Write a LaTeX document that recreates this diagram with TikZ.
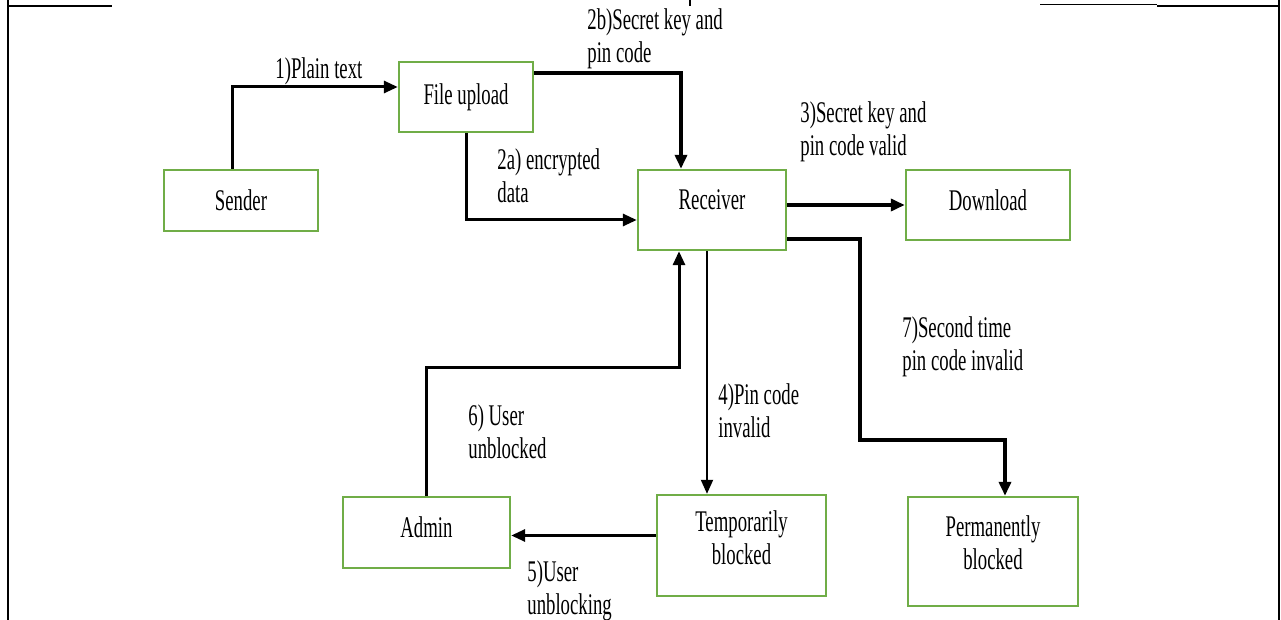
\documentclass[tikz,border=0pt]{standalone}
\usepackage{fontspec}
\setmainfont{Liberation Serif}[FakeStretch=0.625]
\usepackage{tikz}
\usetikzlibrary{positioning,calc,arrows.meta}

\definecolor{boxgreen}{RGB}{112,173,71}

\tikzset{
    stagebox/.style={draw=boxgreen, line width=1.2pt, fill=white, align=center,
        font=\fontsize{15}{16.5}\selectfont, inner sep=2pt},
    flow/.style={-{Triangle[length=7pt,width=6pt]}, line width=1.5pt, line join=miter},
    steplabel/.style={anchor=north west, align=left, inner sep=0pt,
        font=\fontsize{15}{16.5}\selectfont},
    framing/.style={line width=1pt}
}

\begin{document}
\begin{tikzpicture}[x=0.5pt,y=-0.5pt]

\useasboundingbox (0,0) rectangle (1281,620);

% outer frame
\draw[framing] (8,0) -- (8,620);
\draw[framing] (1279,0) -- (1279,620);
\draw[framing] (8,6) -- (112,6);
\draw[framing] (1157,6) -- (1279,6);
\draw[line width=0.5pt] (1040,5) -- (1157,5);
\draw[framing] (690,0) -- (690,6);

% boxes
\node[stagebox, minimum width=77pt, minimum height=30.5pt] (sender) at (241,200.5) {Sender};
\node[stagebox, minimum width=67pt, minimum height=35pt] (fileup) at (466,97) {File upload};
\node[stagebox, minimum width=74pt, minimum height=40pt, text depth=10pt] (recv) at (712,210) {Receiver};
\node[stagebox, minimum width=82pt, minimum height=35pt, text depth=5pt] (dl) at (988,205) {Download};
\node[stagebox, minimum width=83.5pt, minimum height=35.5pt, text depth=5pt] (admin) at (426.5,532.5) {Admin};
\node[stagebox, minimum width=84.5pt, minimum height=50.5pt, text depth=8pt] (temp) at (741.5,545.5) {Temporarily\\blocked};
\node[stagebox, minimum width=85pt, minimum height=54.5pt, text depth=9pt] (perm) at (993,551.5) {Permanently\\blocked};

% bends
\coordinate (k6) at (679,368);
\coordinate (k7) at (860,440);

% connectors
\draw[flow] ([xshift=-4.5pt]sender.north) |- ([yshift=5pt]fileup.west);
\draw[flow, line width=2.2pt] ([yshift=12pt]fileup.east) -| ([xshift=-15.5pt]recv.north);
\draw[flow] (fileup.south) |- ([yshift=-5pt]recv.west);
\draw[flow, line width=2pt] (recv.east |- dl.west) -- (dl.west);
\draw[flow, line width=2.2pt] ([yshift=-14.5pt]recv.east) -| (k7) -| ([xshift=6pt]perm.north);
\draw[flow, line width=1pt] ([xshift=-2.5pt]recv.south) -- ([xshift=-2.5pt]recv.south |- temp.north);
\draw[flow] ([yshift=5pt]temp.west) -- ([yshift=5pt]temp.west -| admin.east);
\draw[flow] (admin.north) |- (k6) -- (k6 |- recv.south);

% step labels
\node[steplabel] (l1) at (275,57) {1)Plain text};
\node[steplabel] (l2b) at (587,8) {2b)Secret key and\\pin code};
\node[steplabel] (l2a) at (497,148) {2a) encrypted\\data};
\node[steplabel] (l3) at (800,101) {3)Secret key and\\pin code valid};
\node[steplabel] (l7) at (902,316) {7)Second time\\pin code invalid};
\node[steplabel] (l4) at (718,383) {4)Pin code\\invalid};
\node[steplabel] (l6) at (468,404) {6) User\\unblocked};
\node[steplabel] (l5) at (527,560) {5)User\\unblocking};

\end{tikzpicture}
\end{document}
